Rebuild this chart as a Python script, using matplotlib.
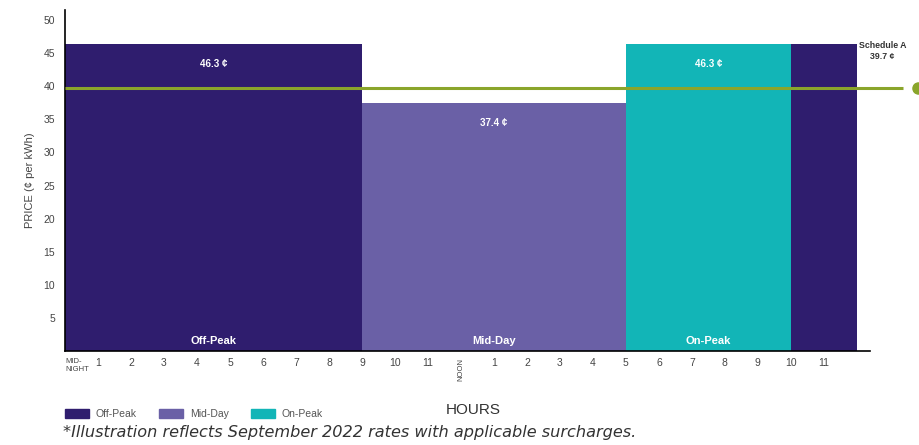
import matplotlib
matplotlib.use('Agg')
import matplotlib.pyplot as plt
import matplotlib.patches as mpatches

plt.rcParams['font.family'] = ['Liberation Sans Narrow', 'Liberation Sans', 'DejaVu Sans']

# time-of-use periods (hour of day) and price in cents per kWh
period_names = ['Off-Peak', 'Mid-Day', 'On-Peak', 'Off-Peak']
period_start = [0, 9, 17, 22]
period_end = [9, 17, 22, 24]
period_price = [46.3, 37.4, 46.3, 46.3]
show_label = [True, True, True, False]

schedule_a_price = 39.7

hour_ticks = list(range(24))
hour_labels = ['MID-\nNIGHT'] + [str(h) for h in range(1, 12)] + ['NOON'] + [str(h) for h in range(1, 12)]
price_ticks = [5, 10, 15, 20, 25, 30, 35, 40, 45, 50]

colors = {'Off-Peak': '#2f1d6e', 'Mid-Day': '#6a60a6', 'On-Peak': '#12b5b7'}
line_color = '#8aa52b'

fig = plt.figure(figsize=(9.2, 4.45), dpi=100)
ax = fig.add_axes([0.0707, 0.211, 0.875, 0.7665])

widths = [e - s for s, e in zip(period_start, period_end)]
ax.bar(period_start, period_price, width=widths, align='edge',
       color=[colors[n] for n in period_names], linewidth=0, zorder=1)

for name, s, w, p, lab in zip(period_names, period_start, widths, period_price, show_label):
    if not lab:
        continue
    cx = s + w / 2
    ax.text(cx, p - 2.9, f'{p:.1f} ¢', ha='center', va='center', color='white',
            fontsize=7, fontweight='bold', zorder=3)
    ax.text(cx, 1.6, name, ha='center', va='center', color='white',
            fontsize=8, fontweight='bold', zorder=3)

# flat-rate comparison line runs past the plot edge
ax.plot([0, 25.4], [schedule_a_price, schedule_a_price], color=line_color, lw=2.2,
        clip_on=False, zorder=4, solid_capstyle='butt')
ax.plot([25.85], [schedule_a_price], 'o', color=line_color, ms=8, clip_on=False, zorder=4)
fig.text(0.9335, 0.885, 'Schedule A\n39.7 ¢', ha='left', va='center', fontsize=6.3,
         fontweight='bold', color='#333333', linespacing=1.35, multialignment='center')

ax.set_xlim(0, 24.4)
ax.set_ylim(0, 51.5)
ax.set_yticks(price_ticks)
ax.set_yticklabels([str(t) for t in price_ticks], fontsize=7.5, color='#444444')
ax.set_xticks(hour_ticks)
ax.set_xticklabels(hour_labels, fontsize=7.5, color='#444444')
mid = ax.get_xticklabels()[0]
mid.set_fontsize(5.5)
mid.set_ha('left')
noon = ax.get_xticklabels()[12]
noon.set_rotation(90)
noon.set_fontsize(5.5)
ax.tick_params(axis='both', length=0)
ax.tick_params(axis='y', pad=7)
ax.tick_params(axis='x', pad=5)

for side in ['top', 'right']:
    ax.spines[side].set_visible(False)
ax.spines['left'].set_linewidth(1.2)
ax.spines['bottom'].set_linewidth(1.2)

ax.set_ylabel('PRICE (¢ per kWh)', fontsize=8, color='#444444', labelpad=6)

# legend row underneath the hour labels
handles = [mpatches.Patch(color=colors[n], label=n) for n in ['Off-Peak', 'Mid-Day', 'On-Peak']]
fig.legend(handles=handles, loc='center left', bbox_to_anchor=(0.06, 0.07), ncol=3,
           frameon=False, fontsize=7.5, handlelength=2.3, handleheight=1.0,
           columnspacing=2.1, handletextpad=0.7, labelcolor='#555555')

fig.text(0.514, 0.078, 'HOURS', ha='center', va='center', fontsize=11, color='#333333')
fig.text(0.068, 0.028, '*Illustration reflects September 2022 rates with applicable surcharges.',
         ha='left', va='center', fontsize=11.6, style='italic', color='#333333',
         family='DejaVu Sans')

fig.savefig('out.png', dpi=100)
